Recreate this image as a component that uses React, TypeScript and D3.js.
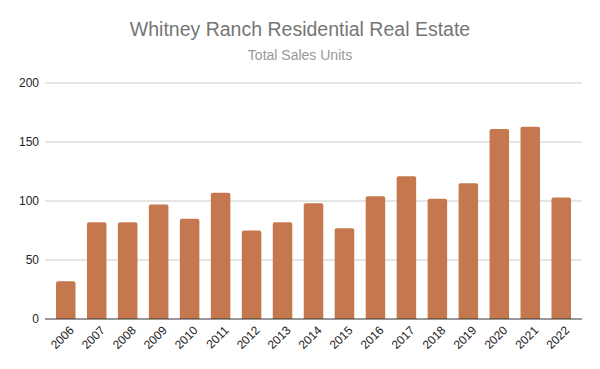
import React from "react";
import * as d3 from "d3";

const years = ["2006","2007","2008","2009","2010","2011","2012","2013","2014","2015","2016","2017","2018","2019","2020","2021","2022"];
const sales = [32, 82, 82, 97, 85, 107, 75, 82, 98, 77, 104, 121, 102, 115, 161, 163, 103];
const yTicks = [0, 50, 100, 150, 200];

const W = 600, H = 369;
const left = 45, right = 582, top = 83, bottom = 319;

export default function App() {
  const x = d3.scaleBand<string>().domain(years).range([left, right]).paddingInner(0.37).paddingOuter(0.355);
  const y = d3.scaleLinear().domain([0, 200]).range([bottom, top]);
  const font = "'Liberation Sans', Arial, sans-serif";
  return (
    <svg width={W} height={H} style={{ position: "absolute", left: 0, top: 0 }} fontFamily={font}>
      <rect width={W} height={H} fill="#fff" />
      <text x={W / 2} y={36} textAnchor="middle" fontSize={19.5} fill="#757575">Whitney Ranch Residential Real Estate</text>
      <text x={W / 2} y={60} textAnchor="middle" fontSize={14} fill="#999">Total Sales Units</text>
      {yTicks.map(t => (
        <g key={t}>
          {t !== 0 && <line x1={left} x2={right} y1={y(t)} y2={y(t)} stroke="#ccc" strokeWidth={1} />}
          <text x={39} y={y(t)} dy="0.35em" textAnchor="end" fontSize={12} fill="#222">{t}</text>
        </g>
      ))}
      {years.map((yr, i) => {
        const bx = x(yr)!;
        const bw = x.bandwidth();
        const yt = y(sales[i]);
        const h = bottom - yt;
        const r = 2;
        const path = `M${bx},${bottom}V${yt + r}Q${bx},${yt} ${bx + r},${yt}H${bx + bw - r}Q${bx + bw},${yt} ${bx + bw},${yt + r}V${bottom}Z`;
        return <path key={yr} d={h > 0 ? path : ""} fill="#c5784d" />;
      })}
      <line x1={left} x2={right} y1={bottom} y2={bottom} stroke="#333" strokeWidth={1} />
      {years.map(yr => {
        const cx = x(yr)! + x.bandwidth() / 2;
        return (
          <text key={yr} transform={`translate(${cx + 6},${328}) rotate(-45)`} textAnchor="end" dy="0.35em" fontSize={12} fill="#222">{yr}</text>
        );
      })}
    </svg>
  );
}
